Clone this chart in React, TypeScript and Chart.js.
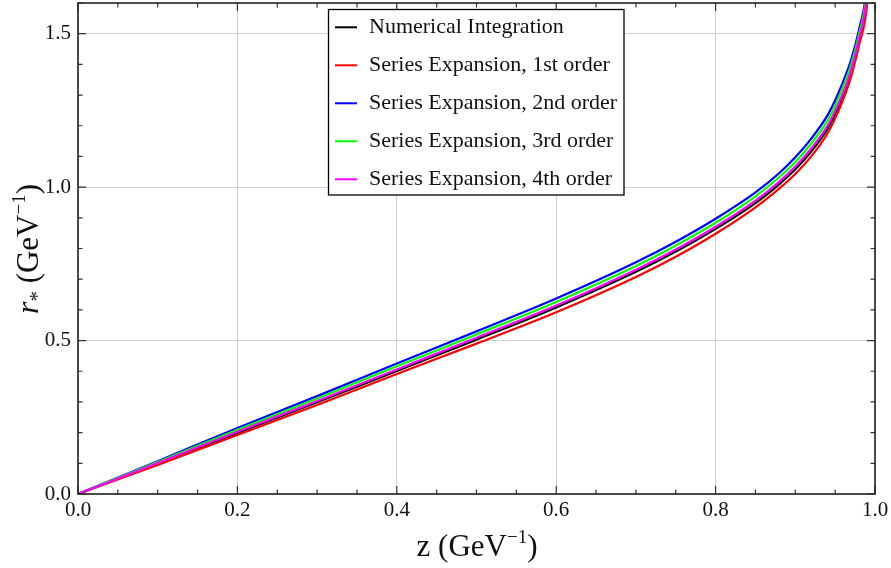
import React, { useEffect, useRef } from "react";
import { Chart, registerables } from "chart.js";

Chart.register(...registerables);

// z values (GeV^-1) at which the curves were read
const zValues = [0, 0.1, 0.2, 0.3, 0.4, 0.5, 0.6, 0.7, 0.75, 0.8, 0.85, 0.88, 0.9, 0.92, 0.94, 0.95, 0.96, 0.97, 0.98, 0.99, 0.995];

// r_* values (GeV^-1) for each series
const numerical = [0, 0.099, 0.199, 0.299, 0.401, 0.503, 0.608, 0.724, 0.79, 0.864, 0.948, 1.01, 1.058, 1.116, 1.188, 1.238, 1.298, 1.372, 1.474, 1.62, 1.83];
const series1st = [0, 0.095, 0.192, 0.29, 0.391, 0.49, 0.592, 0.707, 0.773, 0.848, 0.934, 0.996, 1.043, 1.1, 1.173, 1.224, 1.285, 1.36, 1.463, 1.595, 1.8];
const series2nd = [0, 0.107, 0.215, 0.319, 0.425, 0.53, 0.637, 0.755, 0.822, 0.897, 0.983, 1.046, 1.097, 1.158, 1.232, 1.283, 1.344, 1.415, 1.514, 1.66, 1.88];
const series3rd = [0, 0.104, 0.209, 0.311, 0.416, 0.52, 0.626, 0.743, 0.81, 0.884, 0.97, 1.033, 1.082, 1.142, 1.215, 1.266, 1.327, 1.399, 1.499, 1.645, 1.86];
const series4th = [0, 0.101, 0.203, 0.303, 0.406, 0.509, 0.614, 0.731, 0.797, 0.871, 0.956, 1.018, 1.067, 1.126, 1.198, 1.248, 1.308, 1.381, 1.483, 1.63, 1.84];

const seriesLabels = [
  "Numerical Integration",
  "Series Expansion, 1st order",
  "Series Expansion, 2nd order",
  "Series Expansion, 3rd order",
  "Series Expansion, 4th order",
];
const seriesColors = ["#000000", "#ff0000", "#0000ff", "#00ff00", "#ff00ff"];
const seriesValues = [numerical, series1st, series2nd, series3rd, series4th];

const xTickLabels = ["0.0", "0.2", "0.4", "0.6", "0.8", "1.0"];
const yTickLabels = ["0.0", "0.5", "1.0", "1.5"];

const FONT = "'Liberation Serif', 'Times New Roman', serif";

const framePlugin = {
  id: "frameTicks",
  afterDraw(chart: any) {
    const { ctx, chartArea, scales } = chart;
    const { left, right, top, bottom } = chartArea;
    const xs = scales.x;
    const ys = scales.y;
    ctx.save();
    ctx.strokeStyle = "#333";
    ctx.lineWidth = 1.2;
    for (let i = 0; i <= 20; i++) {
      const px = xs.getPixelForValue(i * 0.05);
      const len = i % 4 === 0 ? 8 : 4.5;
      ctx.beginPath();
      ctx.moveTo(px, bottom);
      ctx.lineTo(px, bottom - len);
      ctx.moveTo(px, top);
      ctx.lineTo(px, top + len);
      ctx.stroke();
    }
    for (let i = 0; i <= 16; i++) {
      const py = ys.getPixelForValue(i * 0.1);
      const len = i % 5 === 0 ? 8 : 4.5;
      ctx.beginPath();
      ctx.moveTo(left, py);
      ctx.lineTo(left + len, py);
      ctx.moveTo(right, py);
      ctx.lineTo(right - len, py);
      ctx.stroke();
    }
    ctx.lineWidth = 1.6;
    ctx.strokeStyle = "#222";
    ctx.strokeRect(left, top, right - left, bottom - top);

    // legend
    const bx = 328.5, by = 9.5, bw = 295.5, bh = 185.5;
    ctx.fillStyle = "#ffffff";
    ctx.fillRect(bx, by, bw, bh);
    ctx.strokeStyle = "#000";
    ctx.lineWidth = 1.3;
    ctx.strokeRect(bx, by, bw, bh);
    ctx.font = `22px ${FONT}`;
    ctx.textBaseline = "alphabetic";
    ctx.textAlign = "left";
    seriesLabels.forEach((lab, i) => {
      const ly = 27.3 + i * 38;
      ctx.strokeStyle = seriesColors[i];
      ctx.lineWidth = 2;
      ctx.beginPath();
      ctx.moveTo(335, ly);
      ctx.lineTo(357, ly);
      ctx.stroke();
      ctx.fillStyle = "#111";
      ctx.fillText(lab, 369, ly + 5.5);
    });

    // axis titles
    const drawSegs = (segs: any[], cx: number, cy: number, rot: number) => {
      ctx.save();
      ctx.translate(cx, cy);
      ctx.rotate(rot);
      let total = 0;
      segs.forEach((s) => {
        ctx.font = s.font;
        total += ctx.measureText(s.t).width;
      });
      let x = -total / 2;
      ctx.fillStyle = "#111";
      ctx.textAlign = "left";
      ctx.textBaseline = "alphabetic";
      segs.forEach((s) => {
        ctx.font = s.font;
        ctx.fillText(s.t, x, s.dy);
        x += ctx.measureText(s.t).width;
      });
      ctx.restore();
    };
    const big = `31px ${FONT}`;
    const sup = `19px ${FONT}`;
    drawSegs(
      [
        { t: "z (GeV", font: big, dy: 0 },
        { t: "\u22121", font: sup, dy: -13 },
        { t: ")", font: big, dy: 0 },
      ],
      477,
      556,
      0
    );
    drawSegs(
      [
        { t: "r", font: `italic 32px ${FONT}`, dy: 0 },
        { t: "*", font: `21px ${FONT}`, dy: 6 },
        { t: " (GeV", font: big, dy: 0 },
        { t: "\u22121", font: sup, dy: -13 },
        { t: ")", font: big, dy: 0 },
      ],
      38,
      249,
      -Math.PI / 2
    );
    ctx.restore();
  },
};

export default function App() {
  const ref = useRef<HTMLCanvasElement>(null);
  useEffect(() => {
    if (!ref.current) return;
    const datasets = seriesValues.map((vals, i) => ({
      label: seriesLabels[i],
      data: zValues.map((z, j) => ({ x: z, y: vals[j] })),
      borderColor: seriesColors[i],
      backgroundColor: seriesColors[i],
      borderWidth: 2.2,
      pointRadius: 0,
      fill: false,
      cubicInterpolationMode: "monotone" as const,
      order: 5 - i,
    }));
    const chart = new Chart(ref.current, {
      type: "line",
      data: { datasets },
      plugins: [framePlugin],
      options: {
        animation: false,
        responsive: false,
        maintainAspectRatio: false,
        layout: { padding: { top: 3, right: 16, left: 0, bottom: 0 } },
        plugins: { legend: { display: false }, tooltip: { enabled: false } },
        scales: {
          x: {
            type: "linear",
            min: 0,
            max: 1,
            afterFit: (s: any) => {
              s.height = 74;
              s.paddingLeft = 0;
              s.paddingRight = 0;
            },
            afterBuildTicks: (s: any) => {
              s.ticks = xTickLabels.map((t) => ({ value: parseFloat(t) }));
            },
            ticks: {
              callback: (v: any) => Number(v).toFixed(1),
              color: "#111",
              font: { family: FONT, size: 21 },
              padding: 4,
              maxRotation: 0,
            },
            grid: { color: "#cfcfcf", lineWidth: 1, drawTicks: false },
            border: { display: false },
          },
          y: {
            type: "linear",
            min: 0,
            max: 1.6,
            afterFit: (s: any) => {
              s.width = 78;
              s.paddingTop = 0;
              s.paddingBottom = 0;
            },
            afterBuildTicks: (s: any) => {
              s.ticks = yTickLabels.map((t) => ({ value: parseFloat(t) }));
            },
            ticks: {
              callback: (v: any) => Number(v).toFixed(1),
              color: "#111",
              font: { family: FONT, size: 21 },
              padding: 7,
            },
            grid: { color: "#cfcfcf", lineWidth: 1, drawTicks: false },
            border: { display: false },
          },
        },
      },
    });
    return () => chart.destroy();
  }, []);
  return (
    <div style={{ position: "fixed", left: 0, top: 0, width: 891, height: 568, background: "#fff" }}>
      <canvas ref={ref} width={891} height={568} style={{ width: 891, height: 568 }} />
    </div>
  );
}
